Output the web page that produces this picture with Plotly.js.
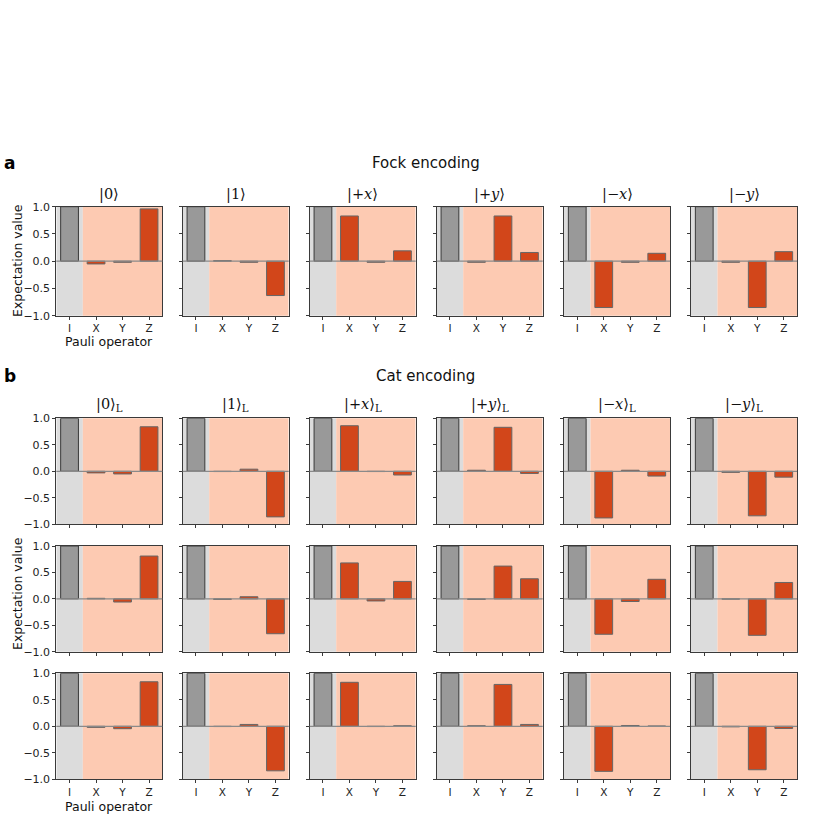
<!DOCTYPE html>
<html>
<head>
<meta charset="utf-8">
<script src="https://cdn.plot.ly/plotly-3.0.1.min.js"></script>
<style>
  body { margin: 0; background: #fff; }
  #chart { width: 830px; height: 830px; }
</style>
</head>
<body>
<div id="chart"></div>
<script>
// Pauli operators on the x axis
var ops = ['I', 'X', 'Y', 'Z'];

// state labels
var fockStates = ['|0⟩', '|1⟩', '|+<i>x</i>⟩', '|+<i>y</i>⟩', '|−<i>x</i>⟩', '|−<i>y</i>⟩'];
var catStates = ['|0⟩<sub>L</sub>', '|1⟩<sub>L</sub>', '|+<i>x</i>⟩<sub>L</sub>',
                 '|+<i>y</i>⟩<sub>L</sub>', '|−<i>x</i>⟩<sub>L</sub>', '|−<i>y</i>⟩<sub>L</sub>'];

// expectation values <I>, <X>, <Y>, <Z> per state
var fockVals = [
  [1, -0.05, -0.02, 0.96],
  [1, 0.01, -0.02, -0.63],
  [1, 0.83, -0.02, 0.19],
  [1, -0.02, 0.83, 0.16],
  [1, -0.85, -0.02, 0.145],
  [1, -0.02, -0.85, 0.175]
];
var catVals1 = [
  [1, -0.03, -0.05, 0.84],
  [1, -0.005, 0.04, -0.86],
  [1, 0.86, -0.005, -0.07],
  [1, 0.02, 0.83, -0.04],
  [1, -0.88, 0.02, -0.09],
  [1, -0.02, -0.84, -0.11]
];
var catVals2 = [
  [1, 0.01, -0.06, 0.81],
  [1, -0.01, 0.04, -0.66],
  [1, 0.68, -0.04, 0.33],
  [1, -0.01, 0.62, 0.38],
  [1, -0.67, -0.05, 0.37],
  [1, -0.005, -0.69, 0.31]
];
var catVals3 = [
  [1, -0.02, -0.045, 0.84],
  [1, -0.005, 0.035, -0.84],
  [1, 0.83, -0.005, 0.01],
  [1, 0.01, 0.79, 0.035],
  [1, -0.85, 0.015, 0.005],
  [1, -0.01, -0.82, -0.04]
];

var W = 830, H = 830;
var colLeft = [56.3, 182.7, 309.7, 436.7, 564, 691];
var colW = 106;
// [top, bottom] of each row in pixels
var rowsPx = [[206.7, 315.7], [418.3, 524.3], [546, 651.7], [673.3, 779.3]];
var rowData = [fockVals, catVals1, catVals2, catVals3];

var orange = '#d2461a', peach = '#fdcab2', lightGray = '#dcdcdc', barGray = '#999999';
var frame = '#3a3a3a';

var traces = [], shapes = [], annotations = [];
var layout = {
  width: W, height: H,
  margin: {l: 0, r: 0, t: 0, b: 0},
  paper_bgcolor: '#fff', plot_bgcolor: '#fff',
  showlegend: false,
  font: {family: 'DejaVu Sans', size: 11, color: '#222'},
  bargap: 0
};

var k = 0;
for (var r = 0; r < 4; r++) {
  for (var c = 0; c < 6; c++) {
    var n = k === 0 ? '' : String(k + 1);
    var xa = 'x' + n, ya = 'y' + n;
    layout['xaxis' + n] = {
      domain: [colLeft[c] / W, (colLeft[c] + colW) / W],
      anchor: ya,
      range: [-0.5, 3.5],
      tickvals: [0, 1, 2, 3],
      ticktext: ops,
      showticklabels: (r === 0 || r === 3),
      ticks: 'outside', ticklen: 3, tickcolor: frame, tickwidth: 1,
      showline: true, mirror: true, linecolor: frame, linewidth: 1,
      showgrid: false, zeroline: false, fixedrange: true,
      tickfont: {size: 10.5, color: '#222'}
    };
    layout['yaxis' + n] = {
      domain: [1 - rowsPx[r][1] / H, 1 - rowsPx[r][0] / H],
      anchor: xa,
      range: [-1, 1],
      tickvals: [-1, -0.5, 0, 0.5, 1],
      ticktext: ['−1.0', '−0.5', '0.0', '0.5', '1.0'],
      showticklabels: c === 0,
      ticks: 'outside', ticklen: 3, tickcolor: frame, tickwidth: 1,
      showline: true, mirror: true, linecolor: frame, linewidth: 1,
      showgrid: false, zeroline: false, fixedrange: true,
      tickfont: {size: 11, color: '#222'}
    };

    var vals = rowData[r][c];
    traces.push({
      type: 'bar',
      x: [0, 1, 2, 3],
      y: vals,
      xaxis: xa, yaxis: ya,
      width: 0.67,
      marker: {
        color: [barGray, orange, orange, orange],
        line: {color: ['#3a3a3a', '#666', '#666', '#666'], width: 1}
      },
      hoverinfo: 'skip'
    });

    // background shading: identity part and Pauli part
    shapes.push({type: 'rect', layer: 'below', xref: xa, yref: ya + ' domain',
                 x0: -0.5, x1: 0.5, y0: 0, y1: 1, fillcolor: lightGray, line: {width: 0}});
    shapes.push({type: 'rect', layer: 'below', xref: xa, yref: ya + ' domain',
                 x0: 0.5, x1: 3.5, y0: 0, y1: 1, fillcolor: peach, line: {width: 0}});
    // zero line
    shapes.push({type: 'line', layer: 'above', xref: xa + ' domain', yref: ya,
                 x0: 0, x1: 1, y0: 0, y1: 0, line: {color: '#8a8a8a', width: 1.3}});

    // subplot title (state) on rows with titles
    if (r === 0 || r === 1) {
      annotations.push({
        xref: 'paper', yref: 'paper',
        x: (colLeft[c] + colW / 2) / W,
        y: 1 - (rowsPx[r][0] - 2) / H,
        xanchor: 'center', yanchor: 'bottom',
        text: r === 0 ? fockStates[c] : catStates[c],
        showarrow: false,
        font: {family: 'DejaVu Serif', size: 14.5, color: '#111'}
      });
    }
    k++;
  }
}

// panel headings
annotations.push({xref: 'paper', yref: 'paper', x: 426 / W, y: 1 - 163 / H,
  xanchor: 'center', yanchor: 'middle', text: 'Fock encoding', showarrow: false,
  font: {size: 15, color: '#111'}});
annotations.push({xref: 'paper', yref: 'paper', x: 426 / W, y: 1 - 376 / H,
  xanchor: 'center', yanchor: 'middle', text: 'Cat encoding', showarrow: false,
  font: {size: 15, color: '#111'}});
annotations.push({xref: 'paper', yref: 'paper', x: 2 / W, y: 1 - 163 / H,
  xanchor: 'left', yanchor: 'middle', text: '<b>a</b>', showarrow: false,
  font: {size: 17, color: '#000'}});
annotations.push({xref: 'paper', yref: 'paper', x: 2 / W, y: 1 - 376 / H,
  xanchor: 'left', yanchor: 'middle', text: '<b>b</b>', showarrow: false,
  font: {size: 17, color: '#000'}});

// axis labels
annotations.push({xref: 'paper', yref: 'paper', x: 17 / W, y: 1 - 261 / H,
  xanchor: 'center', yanchor: 'middle', textangle: -90, text: 'Expectation value',
  showarrow: false, font: {size: 12.5, color: '#111'}});
annotations.push({xref: 'paper', yref: 'paper', x: 17 / W, y: 1 - 594 / H,
  xanchor: 'center', yanchor: 'middle', textangle: -90, text: 'Expectation value',
  showarrow: false, font: {size: 12.5, color: '#111'}});
annotations.push({xref: 'paper', yref: 'paper', x: 109.3 / W, y: 1 - 341 / H,
  xanchor: 'center', yanchor: 'middle', text: 'Pauli operator',
  showarrow: false, font: {size: 12.5, color: '#111'}});
annotations.push({xref: 'paper', yref: 'paper', x: 109.3 / W, y: 1 - 806 / H,
  xanchor: 'center', yanchor: 'middle', text: 'Pauli operator',
  showarrow: false, font: {size: 12.5, color: '#111'}});

layout.shapes = shapes;
layout.annotations = annotations;

Plotly.newPlot('chart', traces, layout, {displayModeBar: false, staticPlot: true});
</script>
</body>
</html>
